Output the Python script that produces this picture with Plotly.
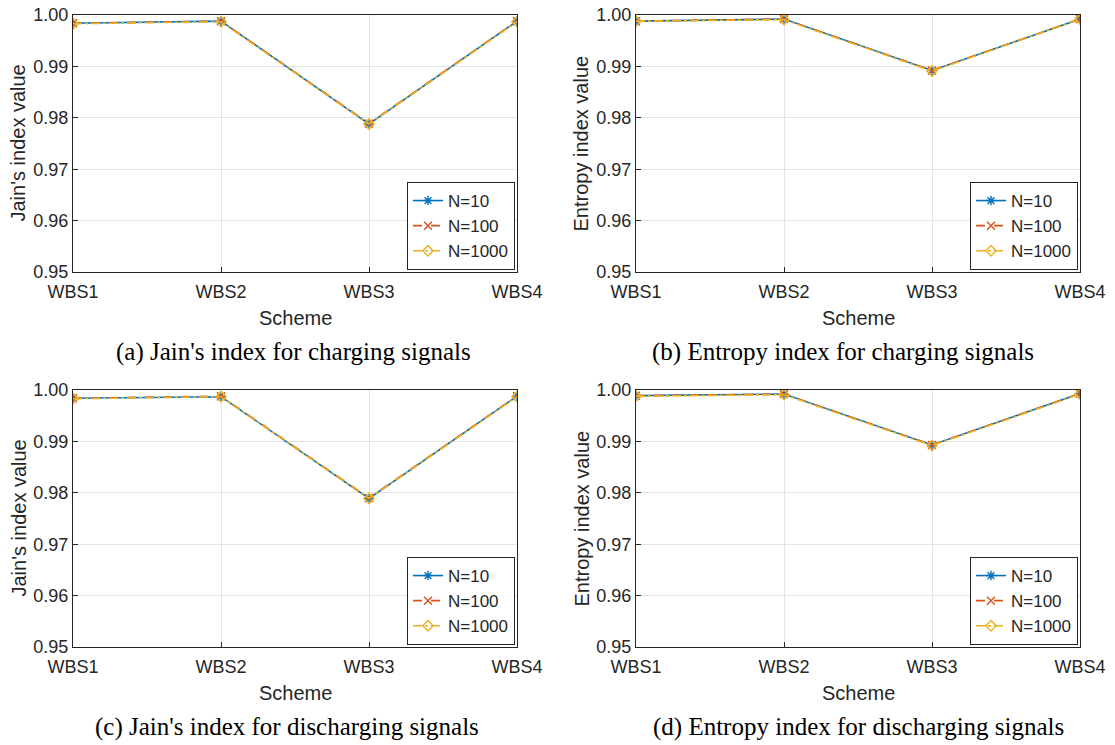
import plotly.graph_objects as go

schemes = ["WBS1", "WBS2", "WBS3", "WBS4"]
series_names = ["N=10", "N=100", "N=1000"]

jain_charging = {
    "N=10": [0.9984, 0.9988, 0.9788, 0.9988],
    "N=100": [0.9984, 0.9988, 0.9789, 0.9988],
    "N=1000": [0.9983, 0.9987, 0.9788, 0.9987],
}
entropy_charging = {
    "N=10": [0.9988, 0.9992, 0.9892, 0.9992],
    "N=100": [0.9988, 0.9992, 0.9892, 0.9992],
    "N=1000": [0.9988, 0.9991, 0.9891, 0.9992],
}
jain_discharging = {
    "N=10": [0.9984, 0.9987, 0.9789, 0.9988],
    "N=100": [0.9984, 0.9988, 0.9790, 0.9988],
    "N=1000": [0.9983, 0.9987, 0.9789, 0.9987],
}
entropy_discharging = {
    "N=10": [0.9989, 0.9992, 0.9893, 0.9993],
    "N=100": [0.9989, 0.9992, 0.9893, 0.9993],
    "N=1000": [0.9988, 0.9991, 0.9892, 0.9992],
}

y_ticks = [0.95, 0.96, 0.97, 0.98, 0.99, 1.00]
x_title = "Scheme"

panels = [
    (jain_charging, "Jain's index value", "(a) Jain's index for charging signals"),
    (entropy_charging, "Entropy index value", "(b) Entropy index for charging signals"),
    (jain_discharging, "Jain's index value", "(c) Jain's index for discharging signals"),
    (entropy_discharging, "Entropy index value", "(d) Entropy index for discharging signals"),
]

colors = {"N=10": "#0072BD", "N=100": "#D95319", "N=1000": "#EDB120"}
dashes = {"N=10": "solid", "N=100": "dash", "N=1000": "dashdot"}
symbols = {"N=10": "asterisk-open", "N=100": "x-thin-open", "N=1000": "diamond-open"}

W, H = 1115, 745
xpx = [(73, 517), (636, 1080)]
ypx = [(15, 272), (390, 647)]
xdom = [(a / W, b / W) for a, b in xpx]
ydom = [(1 - b / H, 1 - a / H) for a, b in ypx]
caption_cx = [(293, 843), (287, 858)]

fig = go.Figure()
tick_font = dict(family="Liberation Sans, Arial, sans-serif", size=18, color="#262626")
legend_font = dict(family="Liberation Sans, Arial, sans-serif", size=17, color="#262626")
title_font = dict(family="Liberation Sans, Arial, sans-serif", size=20, color="#262626")
cap_font = dict(family="Liberation Serif, Times New Roman, serif", size=25, color="black")

for i, (data, ylabel, caption) in enumerate(panels):
    r, c = divmod(i, 2)
    n = i + 1
    xa = "x" if n == 1 else f"x{n}"
    ya = "y" if n == 1 else f"y{n}"
    leg = "legend" if n == 1 else f"legend{n}"
    for name in series_names:
        fig.add_trace(go.Scatter(
            x=schemes, y=data[name], name=name, mode="lines+markers",
            line=dict(color=colors[name], width=1.6, dash=dashes[name]),
            marker=dict(symbol=symbols[name], size=8, color=colors[name],
                        line=dict(color=colors[name], width=1.4)),
            xaxis=xa, yaxis=ya, legend=leg,
        ))
    xkey = "xaxis" if n == 1 else f"xaxis{n}"
    ykey = "yaxis" if n == 1 else f"yaxis{n}"
    fig.update_layout(**{
        xkey: dict(domain=list(xdom[c]), anchor=ya, type="category",
                   range=[0, 3], showgrid=True, gridcolor="#e3e3e3",
                   showline=True, linecolor="#262626", linewidth=1, mirror=True,
                   ticks="inside", ticklen=5, tickcolor="#262626",
                   tickfont=tick_font, zeroline=False, automargin=False,
                   ticklabelstandoff=3),
        ykey: dict(domain=list(ydom[r]), anchor=xa, range=[0.95, 1.0],
                   tickvals=y_ticks, tickformat=".2f", showgrid=True,
                   gridcolor="#e3e3e3", showline=True, linecolor="#262626",
                   linewidth=1, mirror=True, ticks="inside", ticklen=5,
                   tickcolor="#262626", tickfont=tick_font, zeroline=False,
                   automargin=False),
        leg: dict(x=(xpx[c][1] - 2) / W, y=1 - (ypx[r][1] - 2) / H, xanchor="right",
                  yanchor="bottom", bgcolor="white", bordercolor="#262626",
                  borderwidth=1, font=legend_font, tracegroupgap=0,
                  itemwidth=30),
    })
    cx = (xpx[c][0] + xpx[c][1]) / 2
    fig.add_annotation(x=cx / W, y=1 - (ypx[r][1] + 46) / H, xref="paper", yref="paper",
                       text=x_title, showarrow=False, font=title_font,
                       xanchor="center", yanchor="middle")
    fig.add_annotation(x=(xpx[c][0] - 55) / W, y=1 - ((ypx[r][0] + ypx[r][1]) / 2) / H,
                       xref="paper", yref="paper", text=ylabel, showarrow=False,
                       font=title_font, textangle=-90, xanchor="center", yanchor="middle")
    fig.add_annotation(x=caption_cx[r][c] / W, y=1 - (ypx[r][1] + 80) / H,
                       xref="paper", yref="paper", text=caption, showarrow=False,
                       font=cap_font, xanchor="center", yanchor="middle")

fig.update_layout(
    width=W, height=H, margin=dict(l=0, r=0, t=0, b=0),
    plot_bgcolor="white", paper_bgcolor="white", showlegend=True,
)

fig.write_html(
    "out.html",
    config={"displayModeBar": False},
    post_script="document.body.style.margin='0';document.body.style.overflow='hidden';",
)
